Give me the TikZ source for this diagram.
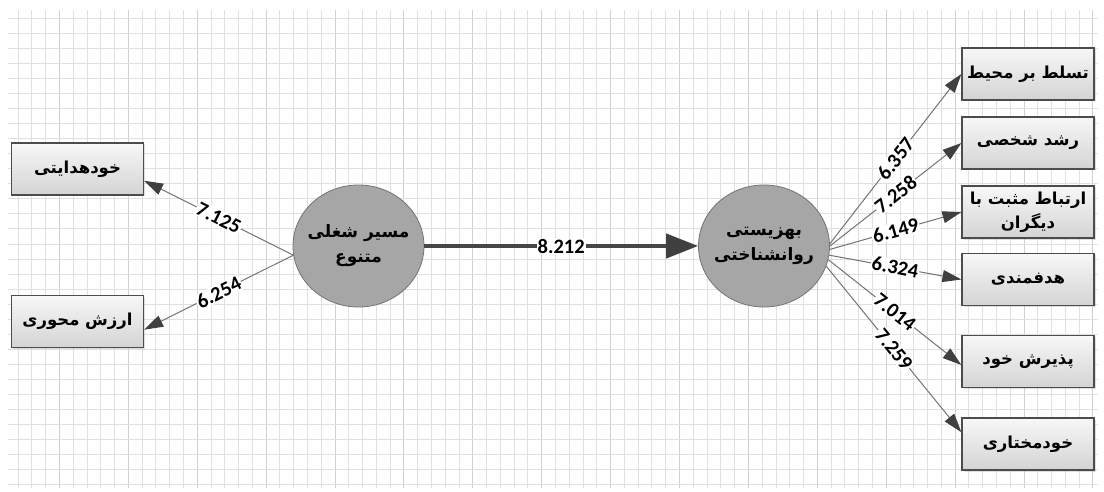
\documentclass[tikz,border=0pt]{standalone}
\usepackage{fontspec}
\setmainfont{Carlito}
\newfontfamily\farsi[Script=Arabic]{DejaVu Sans}
\TeXXeTstate=1
\newcommand{\fa}[1]{{\farsi\bfseries\beginR #1\endR}}
\usetikzlibrary{arrows.meta,shapes.geometric,shadows}

\begin{document}
\begin{tikzpicture}
   [x=1pt,y=-1pt,
	gridline/.style={draw=black!12,line width=0.8pt},
	gridmajor/.style={draw=black!18,line width=0.8pt},
	latent/.style={ellipse,draw=black!55,fill=black!35,line width=0.8pt,inner sep=-10pt,
	 minimum width=131pt,minimum height=122pt,align=center,
	 font=\fontsize{17}{25}\selectfont},
	indic/.style={rectangle,draw=black!70,line width=1.2pt,
	 top color=black!3,bottom color=black!17,minimum width=132pt,minimum height=52pt,
	 align=center,font=\fontsize{16.5}{24}\selectfont,
	 drop shadow={opacity=0.25,shadow xshift=1.5pt,shadow yshift=-1.5pt}},
	load/.style={draw=black!55,line width=1pt,
	 -{Triangle[length=19pt,width=12pt,color=black!75]}},
	mainpath/.style={draw=black!72,line width=4.5pt,
	 -{Triangle[length=32pt,width=24pt,color=black!75]}},
	coef/.style={fill=white,inner sep=1pt,sloped,
	 font=\bfseries\fontsize{20.5}{20}\selectfont}]

\useasboundingbox (0,0) rectangle (1104,492);
\fill [white] (0,0) rectangle (1104,492);

% grid
\foreach \i in {0,...,78} \draw [gridline] ({18+\i*13.78},10) -- ({18+\i*13.78},488);
\foreach \i in {3,8,...,78} \draw [gridmajor] ({18+\i*13.78},10) -- ({18+\i*13.78},488);
\foreach \j in {0,...,31} \draw [gridline] (8,{18+\j*15.06}) -- (1098,{18+\j*15.06});

% latent variables
\node [latent] (career) at (358.5,246) {\fa{مسیر شغلی}\\\fa{متنوع}};
\node [latent] (wellbeing) at (764,246) {\fa{بهزیستی}\\\fa{روانشناختی}};

% indicators
\node [indic] (selfdir) at (77.5,169) {\fa{خودهدایتی}};
\node [indic] (values) at (77.5,321.5) {\fa{ارزش محوری}};
\node [indic] (mastery) at (1028,74) {\fa{تسلط بر محیط}};
\node [indic] (growth) at (1028,143) {\fa{رشد شخصی}};
\node [indic] (relations) at (1028,212) {\fa{ارتباط مثبت با}\\\fa{دیگران}};
\node [indic] (purpose) at (1028,279.5) {\fa{هدفمندی}};
\node [indic] (accept) at (1028,361.5) {\fa{پذیرش خود}};
\node [indic] (autonomy) at (1028,444) {\fa{خودمختاری}};

\draw [mainpath] (career) -- node [coef] {8.212} (wellbeing);

\draw [load] (career.188) -- node [coef] {7.125} (selfdir.-10);
\draw [load] (career.188) -- node [coef] {6.254} (values.-7);

\draw [load] (wellbeing.2) -- node [coef] {6.357} (mastery.west);
\draw [load] (wellbeing.0) -- node [coef] {7.258} (growth.west);
\draw [load] (wellbeing.-3) -- node [coef] {6.149} (relations.west);
\draw [load] (wellbeing.-8) -- node [coef] {6.324} (purpose.west);
\draw [load] (wellbeing.-12) -- node [coef] {7.014} (accept.183);
\draw [load] (wellbeing.-18) -- node [coef] {7.259} (autonomy.170);
\end{tikzpicture}
\end{document}
